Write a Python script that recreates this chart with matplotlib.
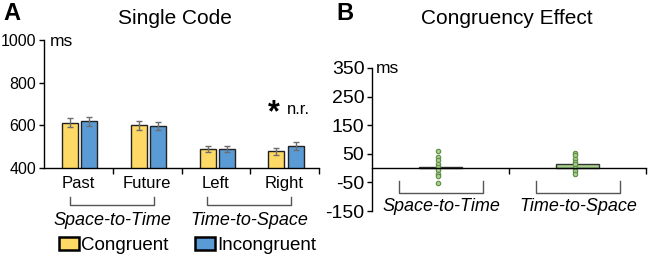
import matplotlib
matplotlib.use("Agg")
import matplotlib.pyplot as plt
from matplotlib.patches import Patch
import numpy as np

plt.rcParams['font.family'] = ['Liberation Sans', 'DejaVu Sans']

# ---------------- data ----------------
categories = ["Past", "Future", "Left", "Right"]
congruent = [613, 601, 489, 478]
congruent_err = [22, 21, 13, 16]
incongruent = [620, 598, 489, 503]
incongruent_err = [21, 19, 12, 17]
group_labels = ["Space-to-Time", "Time-to-Space"]

effect_means = [3, 13]
s2t_points = [59, 38, 27, 15, 3, -8, -20, -28, -53]
t2s_points = [53, 45, 33, 22, 13, 1, -10, -20]

yticksA = [400, 600, 800, 1000]
yticksB = [-150, -50, 50, 150, 250, 350]

YELLOW = "#FFD966"
BLUE = "#5B9BD5"
GREEN = "#A9D18E"
GREEN_EDGE = "#5E8C46"
ERR = "#6E6E6E"
BRACKET = "#555555"

W, H = 649, 258
fig = plt.figure(figsize=(W / 100, H / 100), dpi=100)

def fx(px):
    return px / W

def fy(py):
    return 1 - py / H

# ---------------- Panel A ----------------
axA = fig.add_axes([fx(44), fy(168), fx(319) - fx(44), fy(40) - fy(168)])
x = np.arange(len(categories))
bw = 0.235
axA.bar(x - 0.12, congruent, bw, color=YELLOW, edgecolor="#222222", linewidth=1.0,
        yerr=congruent_err, error_kw=dict(ecolor=ERR, elinewidth=1.0, capsize=2, capthick=1.0))
axA.bar(x + 0.16, incongruent, bw, color=BLUE, edgecolor="#222222", linewidth=1.0,
        yerr=incongruent_err, error_kw=dict(ecolor=ERR, elinewidth=1.0, capsize=2, capthick=1.0))
axA.set_xlim(-0.5, 3.5)
axA.set_ylim(400, 1000)
axA.set_yticks(yticksA)
axA.set_yticklabels([str(v) for v in yticksA], fontsize=11.5)
axA.set_xticks(x)
axA.set_xticklabels(categories, fontsize=12)
axA.set_xticks([0.5, 1.5, 2.5, 3.5], minor=True)
axA.tick_params(axis="x", which="major", length=0, pad=6)
axA.tick_params(axis="x", which="minor", length=4, width=1.0, direction="out")
axA.tick_params(axis="y", length=3.5, width=1.0, direction="out", pad=2)
for s in ["top", "right"]:
    axA.spines[s].set_visible(False)
for s in ["left", "bottom"]:
    axA.spines[s].set_linewidth(1.0)
axA.patch.set_alpha(0)

axA.text(0.02, 0.99, "ms", transform=axA.transAxes, fontsize=12.5, va="center", ha="left")
axA.text(3.37, 672, "n.r.", fontsize=12, ha="right", va="center")
axA.text(2.85, 655, "*", fontsize=22, fontweight="bold", ha="center", va="center")

# brackets panel A
transA = axA.get_xaxis_transform()
for (x0, x1), lab in zip([(-0.12, 1.10), (1.87, 3.09)], group_labels):
    top, bot = -0.225, -0.29
    axA.plot([x0, x0, x1, x1], [top, bot, bot, top], color=BRACKET, lw=1.0,
             transform=transA, clip_on=False)
    axA.text((x0 + x1) / 2, -0.41, lab, transform=transA, fontsize=13, style="italic",
             ha="center", va="center")

# legend
handles = [Patch(facecolor=YELLOW, edgecolor="black", linewidth=1.8, label="Congruent"),
           Patch(facecolor=BLUE, edgecolor="black", linewidth=1.8, label="Incongruent")]
fig.legend(handles=handles, loc="center left", bbox_to_anchor=(fx(59), fy(245.5)),
           ncol=2, frameon=False, fontsize=13.5, handlelength=1.05, handleheight=0.72,
           handletextpad=0.15, columnspacing=1.4, borderpad=0, borderaxespad=0)

fig.text(fx(3), fy(14), "A", fontsize=17, fontweight="bold", ha="left", va="center")
fig.text(fx(175), fy(18), "Single Code", fontsize=15, ha="center", va="center")

# ---------------- Panel B ----------------
axB = fig.add_axes([fx(372), fy(211), fx(646) - fx(372), fy(68) - fy(211)])
xb = np.arange(len(group_labels))
axB.bar(xb, effect_means, 0.32, color=GREEN, edgecolor="#333333", linewidth=1.0)
for xi, pts in zip(xb, [s2t_points, t2s_points]):
    axB.plot(np.full(len(pts), xi - 0.015), pts, linestyle="none", marker="o", markersize=3.2,
             markerfacecolor=GREEN, markeredgecolor=GREEN_EDGE, markeredgewidth=0.8)
axB.set_xlim(-0.5, 1.5)
axB.set_ylim(-150, 350)
axB.set_yticks(yticksB)
axB.set_yticklabels([str(v) for v in yticksB], fontsize=14)
axB.set_xticks([0.5, 1.5])
axB.set_xticklabels([])
axB.tick_params(axis="x", length=4, width=1.0, direction="out")
axB.tick_params(axis="y", length=3.5, width=1.0, direction="out", pad=2)
axB.spines["bottom"].set_position(("data", 0))
for s in ["top", "right"]:
    axB.spines[s].set_visible(False)
for s in ["left", "bottom"]:
    axB.spines[s].set_linewidth(1.0)
axB.patch.set_alpha(0)
axB.text(0.015, 0.995, "ms", transform=axB.transAxes, fontsize=12.5, va="center", ha="left")

for (x0, x1), lab in zip([(-0.30, 0.31), (0.70, 1.31)], group_labels):
    top, bot = -45, -88
    axB.plot([x0, x0, x1, x1], [top, bot, bot, top], color=BRACKET, lw=1.0, clip_on=False)
    axB.text((x0 + x1) / 2, -135, lab, fontsize=13, style="italic", ha="center", va="center")

fig.text(fx(336), fy(14), "B", fontsize=17, fontweight="bold", ha="left", va="center")
fig.text(fx(507), fy(18), "Congruency Effect", fontsize=15, ha="center", va="center")

fig.savefig("out.png", dpi=100)
